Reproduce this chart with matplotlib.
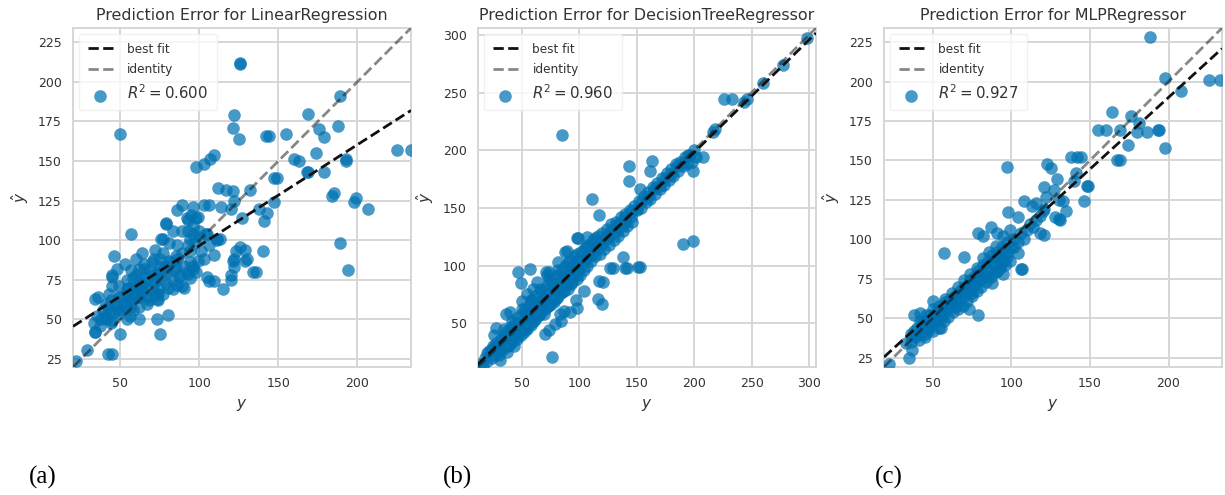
import matplotlib
matplotlib.use("Agg")
import matplotlib.pyplot as plt
import numpy as np

# ---------------- data ----------------
titles = ["Prediction Error for LinearRegression",
          "Prediction Error for DecisionTreeRegressor",
          "Prediction Error for MLPRegressor"]
r2_scores = [0.600, 0.960, 0.927]
panel_labels = ["(a)", "(b)", "(c)"]
axis_limits = [(20, 234), (12, 306), (19, 234)]
x_ticks = [[50, 100, 150, 200], [50, 100, 150, 200, 250, 300], [50, 100, 150, 200]]
y_ticks = [[25, 50, 75, 100, 125, 150, 175, 200, 225],
           [50, 100, 150, 200, 250, 300],
           [25, 50, 75, 100, 125, 150, 175, 200, 225]]
best_fit_slope = [0.637, 0.977, 0.91]
best_fit_intercept = [32.9, 2.7, 8.0]

# Linear regression: (y, y_hat)
lin_y = [126, 126, 50, 122, 121, 125, 142, 144, 155, 169, 176, 179, 188, 189, 225, 234,
         160, 163, 174, 193, 193, 168, 169, 179, 184, 185, 199, 198, 207, 189, 194,
         147, 149, 132, 147, 138, 143, 141, 127, 122, 120, 112, 117, 121, 98, 103, 107,
         109, 114, 86, 89, 96, 103, 106, 57, 46, 79, 76, 92, 95, 98, 93, 96, 100, 105,
         111, 126, 129, 123, 130, 122, 129, 140, 134, 136, 121, 122, 120, 120, 105, 106,
         109, 115, 73, 80, 75, 50, 29, 42, 45, 22, 34, 34, 36, 73, 74, 45,
         79, 83, 77, 89, 93, 96, 99, 94, 100, 104, 106, 111, 109, 103, 113,
         72, 77, 71, 65, 62, 68, 75, 81, 85, 89, 96, 93, 87, 83, 79, 89, 83, 77, 73,
         57, 58, 54, 62, 66, 71, 64, 59, 54, 49, 45, 45, 43, 49, 56, 62, 67, 62, 58,
         52, 47, 41, 39, 43, 49, 56, 62, 54, 35, 33, 37, 41, 45, 34,
         64, 60, 53, 48, 74, 79, 85, 86, 81, 94, 101, 99, 93, 97, 60, 64, 57, 67, 71, 74,
         42, 44, 46, 48, 50, 52, 54, 56, 58, 60, 62, 64, 66, 68, 70, 72, 74, 76, 78, 80,
         82, 84, 86, 88, 90, 92, 94, 96, 40, 38, 44, 50, 56, 62, 68, 74, 80, 86, 90, 94,
         98, 55, 60, 65, 70, 75]
lin_yhat = [211, 212, 167, 179, 171, 164, 166, 166, 167, 180, 170, 165, 172, 191, 157, 157,
            151, 150, 155, 151, 150, 143, 143, 143, 128, 130, 127, 124, 120, 98, 81,
            139, 139, 132, 124, 120, 117, 112, 114, 125, 120, 133, 132, 131, 146, 148, 151,
            154, 121, 119, 122, 121, 122, 122, 104, 90, 110, 101, 114, 116, 114, 106, 104, 106, 104,
            101, 96, 94, 93, 88, 88, 87, 93, 80, 80, 87, 83, 78, 75, 77, 74,
            74, 69, 50, 53, 41, 41, 31, 28, 28, 24, 42, 63, 64, 63, 62, 78,
            111, 106, 101, 106, 113, 109, 115, 101, 102, 104, 97, 100, 91, 88, 101,
            94, 92, 88, 85, 82, 81, 83, 87, 90, 92, 84, 79, 77, 75, 73, 71, 69, 66, 66,
            81, 76, 75, 75, 77, 73, 71, 69, 69, 71, 71, 77, 66, 64, 62, 64, 64, 58, 56,
            58, 59, 60, 56, 54, 54, 52, 50, 50, 52, 48, 46, 50, 49, 42,
            92, 88, 85, 82, 79, 81, 83, 97, 98, 93, 93, 87, 97, 98, 68, 72, 62, 60, 66, 70,
            58, 62, 55, 60, 64, 60, 66, 62, 70, 66, 72, 68, 74, 70, 78, 74, 80, 76, 84, 80,
            86, 82, 88, 78, 84, 80, 86, 82, 52, 50, 48, 56, 58, 64, 62, 66, 70, 72, 70, 76,
            80, 70, 78, 82, 86, 88]

# Decision tree: (y, y_hat)
tree_y = [85, 76, 190, 199, 226, 233, 243, 246, 260, 277, 298, 216, 218, 111, 117, 143, 143,
          163, 162, 153, 208, 199, 99, 89, 138, 140, 127, 129, 142, 151, 153, 117, 120, 116,
          47, 57, 49, 70, 74, 79, 83, 87, 97, 71,
          14, 16, 18, 20, 22, 24, 25, 27, 28, 30, 31, 32, 33, 35, 36, 37, 38, 39, 40, 41, 42, 43,
          44, 45, 46, 47, 48, 49, 50, 51, 52, 53, 54, 55, 56, 57, 58, 59, 60, 61, 62, 63, 64, 65,
          66, 67, 68, 69, 70, 71, 72, 73, 74, 75, 76, 77, 78, 79, 80, 81, 82, 83, 84, 85, 86, 87,
          88, 89, 90, 91, 92, 93, 94, 95, 96, 97, 98, 99, 100, 101, 102, 103, 104, 105, 106, 107,
          108, 109, 110, 112, 113, 114, 116, 117, 118, 120, 121, 122, 124, 125, 126, 128, 129, 130,
          132, 133, 134, 136, 137, 138, 140, 141, 142, 144, 145, 146, 148, 150, 152, 154, 156, 158,
          160, 162, 164, 166, 168, 170, 172, 174, 176, 178, 180, 182, 184, 186, 188, 190, 192, 194,
          196, 198, 200, 202,
          30, 35, 40, 45, 50, 55, 60, 65, 70, 75, 80, 85, 90, 95, 100, 105, 110, 115, 120, 125,
          130, 135, 140, 145, 150, 155, 160, 165, 170, 175, 180, 185, 190, 195,
          20, 24, 28, 32, 36, 40, 44, 48, 52, 56, 60, 64, 68, 72, 76, 80, 84, 88, 92, 96, 100,
          104, 108, 112, 116, 120, 124, 128, 132, 136, 140,
          30, 34, 38, 42, 46, 50, 54, 58, 62, 66, 70, 74, 78, 82, 86, 90, 94, 98,
          35, 42, 50, 58, 66, 74, 82, 90, 98, 106, 114,
          98, 107, 72, 74, 63, 60, 55, 50, 40, 36, 28, 26, 92, 98, 84, 104, 121, 82, 88]
tree_yhat = [213, 21, 119, 121, 244, 244, 242, 244, 258, 274, 297, 216, 218, 158, 144, 186, 173,
             191, 182, 166, 194, 182, 124, 113, 107, 98, 98, 98, 98, 99, 99, 87, 67, 71,
             94, 97, 85, 41, 44, 49, 58, 61, 70, 94,
             15, 13, 20, 17, 26, 20, 30, 22, 33, 26, 18, 36, 29, 40, 30, 25, 44, 35, 32, 47, 38, 30,
             50, 42, 36, 55, 45, 40, 58, 48, 42, 62, 52, 45, 66, 55, 48, 70, 58, 52, 74, 62, 56, 68,
             60, 78, 66, 58, 80, 70, 64, 84, 72, 66, 86, 76, 70, 90, 78, 72, 92, 82, 76, 96, 84, 78,
             100, 88, 80, 104, 92, 84, 100, 90, 108, 96, 88, 105, 98, 92, 112, 102, 96, 115, 106, 100,
             118, 108, 104, 122, 112, 108, 126, 116, 110, 128, 120, 114, 132, 124, 118, 136, 128, 122,
             138, 130, 126, 142, 134, 130, 145, 138, 134, 148, 142, 138, 152, 148, 156, 150, 160, 155,
             164, 158, 168, 162, 172, 166, 176, 170, 180, 174, 184, 178, 188, 182, 190, 186, 194, 188,
             196, 190, 200, 194,
             30, 36, 39, 46, 49, 56, 59, 66, 69, 76, 79, 86, 89, 96, 99, 106, 109, 116, 119, 126,
             129, 136, 139, 146, 149, 156, 159, 166, 169, 176, 179, 186, 189, 196,
             24, 28, 30, 32, 38, 42, 44, 50, 52, 58, 62, 64, 70, 74, 78, 82, 86, 90, 94, 98, 102,
             104, 110, 114, 118, 122, 126, 130, 134, 138, 142,
             22, 28, 30, 34, 38, 44, 46, 50, 54, 58, 62, 66, 68, 74, 78, 84, 86, 92,
             45, 52, 62, 70, 80, 88, 96, 102, 110, 116, 124,
             124, 125, 92, 94, 86, 80, 75, 69, 60, 58, 46, 40, 60, 63, 52, 78, 86, 103, 112]

# MLP: (y, y_hat)
mlp_y = [188, 198, 208, 226, 233, 164, 155, 160, 169, 176, 181, 180, 186, 193, 194, 174, 198,
         167, 169, 97, 123, 125, 129, 138, 142, 144, 141, 140, 149, 148, 146, 135, 133, 121, 122,
         127, 130, 128, 131, 130, 118, 121, 116, 121, 113, 108, 98, 104, 106, 107, 57, 70, 79, 73,
         35, 37, 22, 79, 82, 87, 91, 95, 99, 100, 104, 97, 91, 94, 91, 95, 88, 82, 77, 74,
         36, 33, 38, 42, 50, 53, 47, 55,
         36, 38, 39, 40, 41, 42, 43, 44, 45, 46, 47, 48, 49, 50, 51, 52, 53, 54, 55, 56, 57, 58,
         59, 60, 61, 62, 63, 64, 65, 66, 67, 68, 69, 70, 71, 72, 73, 74, 75, 76, 77, 78, 79, 80,
         81, 82, 83, 84, 85, 86, 87, 88, 89, 90, 91, 92, 93, 94, 95, 96, 97, 98, 99, 101, 102, 104,
         106, 108, 110, 112, 114, 116, 118, 120,
         40, 44, 48, 52, 56, 60, 64, 68, 72, 76, 80, 84, 88, 92, 96,
         42, 46, 50, 54, 58, 62, 66, 70, 74, 78, 82, 86, 90, 45, 55, 65, 75, 85, 95]
mlp_yhat = [228, 202, 194, 201, 201, 181, 169, 169, 169, 178, 174, 168, 168, 169, 169, 160, 158,
            150, 150, 146, 148, 145, 138, 152, 152, 152, 142, 137, 134, 134, 124, 118, 124, 133, 127,
            131, 125, 114, 112, 113, 104, 103, 123, 119, 121, 124, 117, 114, 81, 81, 91, 89, 52, 56,
            25, 30, 21, 104, 102, 108, 104, 102, 106, 95, 91, 89, 89, 85, 80, 78, 72, 78, 74, 74,
            40, 34, 52, 53, 61, 49, 42, 44,
            35, 42, 38, 44, 36, 40, 46, 42, 38, 48, 44, 52, 46, 42, 50, 54, 48, 44, 56, 52, 48, 60,
            55, 51, 62, 58, 54, 64, 60, 56, 66, 62, 58, 70, 65, 61, 72, 68, 64, 76, 71, 67, 80, 74,
            70, 84, 77, 73, 86, 80, 76, 90, 84, 79, 92, 87, 82, 95, 88, 84, 98, 92, 86, 100, 95, 98,
            104, 100, 106, 110, 108, 112, 115, 118,
            40, 46, 48, 50, 56, 60, 62, 68, 70, 74, 78, 82, 86, 90, 94,
            48, 52, 56, 58, 62, 66, 70, 74, 78, 82, 88, 92, 96, 40, 50, 58, 66, 76, 86]

series_y = [lin_y, tree_y, mlp_y]
series_yhat = [lin_yhat, tree_yhat, mlp_yhat]

# ---------------- drawing ----------------
plt.rcParams["font.family"] = ["DejaVu Sans"]
fig = plt.figure(figsize=(12.25, 4.95), dpi=100)

lefts = [73 / 1225, 478 / 1225, 884 / 1225]
width = 338 / 1225
bottom = 1 - 367 / 495
height = 339 / 495
label_x = [43 / 1225, 458 / 1225, 889 / 1225]

point_color = "#0072B2"
grid_color = "#d6d6d6"
text_color = "#333333"

for i in range(3):
    ax = fig.add_axes([lefts[i], bottom, width, height])
    ax.set_facecolor("white")
    lo, hi = axis_limits[i]
    ax.scatter(series_y[i], series_yhat[i], s=82, color=point_color, alpha=0.72,
               linewidths=0, label=f"$R^2 = {r2_scores[i]:.3f}$", zorder=3)
    xs = np.array([lo, hi])
    ax.plot(xs, best_fit_slope[i] * xs + best_fit_intercept[i], ls="--", color="#111111",
            lw=2, label="best fit", zorder=4)
    ax.plot(xs, xs, ls="--", color="#111111", alpha=0.5, lw=2, label="identity", zorder=4)
    ax.set_xlim(lo, hi)
    ax.set_ylim(lo, hi)
    ax.set_xticks(x_ticks[i])
    ax.set_yticks(y_ticks[i])
    ax.grid(True, color=grid_color, lw=1.4)
    ax.set_axisbelow(True)
    for sp in ax.spines.values():
        sp.set_color(grid_color)
        sp.set_linewidth(1.4)
    ax.tick_params(axis="x", length=0, labelsize=9, colors=text_color, pad=7)
    ax.tick_params(axis="y", length=0, labelsize=9, colors=text_color, pad=8)
    ax.set_title(titles[i], fontsize=11.4, color=text_color, pad=6)
    ax.set_xlabel("$y$", fontsize=11, color=text_color, labelpad=5)
    ax.set_ylabel(r"$\hat{y}$", fontsize=11, color=text_color, labelpad=5)
    handles, labels = ax.get_legend_handles_labels()
    order = [1, 2, 0]
    leg = ax.legend([handles[k] for k in order], [labels[k] for k in order],
                    loc="upper left", frameon=True, fontsize=8.7, labelspacing=0.6,
                    handlelength=2.1, handletextpad=1.2, borderpad=0.7, markerscale=1.0)
    leg.get_texts()[2].set_fontsize(10.8)
    leg.get_frame().set_edgecolor("#eeeeee")
    leg.get_frame().set_alpha(0.8)
    for t in leg.get_texts():
        t.set_color(text_color)
    fig.text(label_x[i], 1 - 477 / 495, panel_labels[i], fontsize=18,
             family=["Liberation Serif"], ha="center", va="center", color="black")

fig.savefig("out.png", dpi=100)
